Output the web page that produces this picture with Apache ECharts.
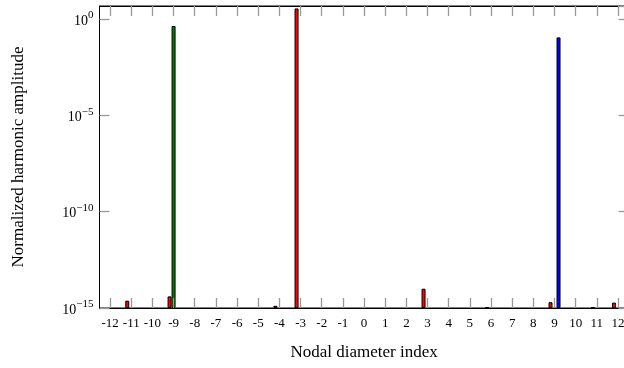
<!DOCTYPE html>
<html>
<head>
<meta charset="utf-8">
<script src="https://cdn.jsdelivr.net/npm/echarts@6/dist/echarts.min.js"></script>
<style>
  html, body { margin: 0; padding: 0; background: #fff; }
  #chart { width: 624px; height: 368px; }
</style>
</head>
<body>
<div id="chart"></div>
<script>
// Nodal diameter indices shown on the x axis
const categories = ['-12','-11','-10','-9','-8','-7','-6','-5','-4','-3','-2','-1','0','1','2','3','4','5','6','7','8','9','10','11','12'];

// Normalized harmonic amplitudes per nodal diameter ('-' = no bar)
const redAmp = ['-', 2.4e-15, '-', 4e-15, '-', '-', '-', '-', 1.3e-15, 3.5, '-', '-', '-', '-', '-', 1e-14, '-', '-', 1.1e-15, '-', '-', 2e-15, '-', 1.1e-15, 1.9e-15];
const greenAmp = ['-', '-', '-', 0.43, '-', '-', '-', '-', '-', '-', '-', '-', '-', '-', '-', '-', '-', '-', '-', '-', '-', '-', '-', '-', '-'];
const blueAmp = ['-', '-', '-', '-', '-', '-', '-', '-', '-', '-', '-', '-', '-', '-', '-', '-', '-', '-', '-', '-', '-', 0.11, '-', '-', '-'];

// Decade exponents that carry a tick label
const yTickExponents = [-15, -10, -5, 0];

const FONT = 'Liberation Serif';
const yMin = 1e-15;
const yMax = Math.pow(10, 0.67);

function decadeLabel(v) {
  const e = Math.round(Math.log10(v));
  if (Math.abs(Math.log10(v) - e) > 1e-6 || yTickExponents.indexOf(e) < 0) return '';
  const s = String(e).replace('-', '\u2212');
  return '{b|10}{e|' + s + '}';
}

const tickStyle = { color: '#999', width: 1.3 };

function barSeries(name, data, color) {
  return {
    name: name,
    type: 'bar',
    data: data,
    barWidth: 4,
    barGap: '0%',
    z: 1,
    itemStyle: { color: color, borderColor: '#000', borderWidth: 1 },
    emphasis: { disabled: true }
  };
}

const chart = echarts.init(document.getElementById('chart'), null, { renderer: 'canvas' });
chart.setOption({
  animation: false,
  grid: {
    left: 99.5, right: -4.6, top: 6, bottom: 60,
    outerBoundsMode: 'none',
    containLabel: false,
    show: true, borderColor: '#000', borderWidth: 1
  },
  xAxis: [
    {
      type: 'category',
      data: categories,
      position: 'bottom',
      z: 5,
      name: 'Nodal diameter index',
      nameLocation: 'middle',
      nameGap: 36,
      nameTextStyle: { fontFamily: FONT, fontSize: 17, color: '#000' },
      axisLine: { show: true, onZero: false, lineStyle: { color: '#000' } },
      axisTick: { show: true, interval: 0, inside: true, alignWithLabel: true, length: 10, lineStyle: tickStyle },
      axisLabel: { fontFamily: FONT, fontSize: 13, color: '#000', margin: 9, interval: 0 }
    },
    {
      type: 'category',
      data: categories,
      position: 'top',
      z: 5,
      axisLine: { show: true, onZero: false, lineStyle: { color: '#000' } },
      axisTick: { show: true, interval: 0, inside: true, alignWithLabel: true, length: 10, lineStyle: tickStyle },
      axisLabel: { show: false, interval: 0 }
    }
  ],
  yAxis: [
    {
      type: 'log',
      logBase: 10,
      min: yMin,
      max: yMax,
      startValue: yMin,
      interval: 5,
      z: 5,
      name: 'Normalized harmonic amplitude',
      nameLocation: 'middle',
      nameGap: 72,
      nameTextStyle: { fontFamily: FONT, fontSize: 17, color: '#000' },
      axisLine: { show: true, onZero: false, lineStyle: { color: '#000' } },
      axisTick: { show: true, inside: true, length: 10, lineStyle: tickStyle },
      splitLine: { show: false },
      axisLabel: {
        showMaxLabel: false,
        margin: 6,
        formatter: decadeLabel,
        rich: {
          b: { fontFamily: FONT, fontSize: 14, color: '#000', lineHeight: 18, verticalAlign: 'bottom' },
          e: { fontFamily: FONT, fontSize: 11, color: '#000', lineHeight: 18, verticalAlign: 'top' }
        }
      }
    },
    {
      type: 'log',
      logBase: 10,
      min: yMin,
      max: yMax,
      interval: 5,
      position: 'right',
      z: 5,
      axisLine: { show: true, onZero: false, lineStyle: { color: '#000' } },
      axisTick: { show: true, inside: true, length: 10, lineStyle: tickStyle },
      splitLine: { show: false },
      axisLabel: { show: false }
    }
  ],
  series: [
    barSeries('red', redAmp, '#ff0000'),
    barSeries('green', greenAmp, '#008000'),
    barSeries('blue', blueAmp, '#0000ff')
  ]
});
</script>
</body>
</html>
